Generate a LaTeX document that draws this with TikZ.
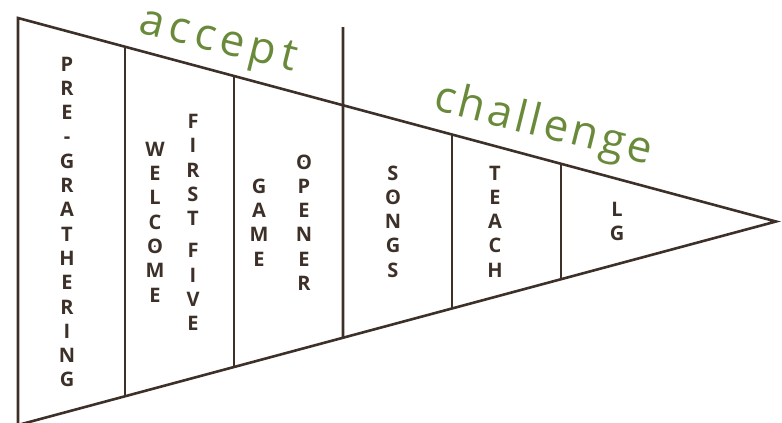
\documentclass[tikz,border=0pt]{standalone}
\usepackage{fontspec}
\setmainfont{Open Sans}
\newfontfamily\acceptfont[LetterSpace=12]{Open Sans}
\newfontfamily\challengefont[LetterSpace=8]{Open Sans}
\usetikzlibrary{calc}
\definecolor{ink}{HTML}{3D3029}
\definecolor{leaf}{HTML}{6A8A3B}
\newcommand\Odot{\ooalign{O\cr\hidewidth\raisebox{6.4pt}{\fontsize{11}{11}\selectfont.}\hidewidth\cr}}
\begin{document}
\begin{tikzpicture}[x=1pt,y=-1pt,
  edge/.style={draw=ink,line width=2.6pt},
  letters/.style={text=ink,font=\bfseries\fontsize{20}{24.3}\selectfont,align=center,inner sep=0pt},
  title/.style={text=leaf,rotate=-14,anchor=base,inner sep=0pt}]
\useasboundingbox (0,0) rectangle (782,423);
\coordinate (TL) at (18,18);
\coordinate (BL) at (18,425);
\coordinate (TIP) at (776,221.5);
\draw[edge,line join=miter] (BL) -- (TL) -- (TIP) -- cycle;
% dividers
\coordinate (d1t) at ($(TL)!{107/758}!(TIP)$);
\coordinate (d1b) at ($(BL)!{107/758}!(TIP)$);
\coordinate (d2t) at ($(TL)!{216/758}!(TIP)$);
\coordinate (d2b) at ($(BL)!{216/758}!(TIP)$);
\coordinate (d3t) at (343,27);
\coordinate (d3b) at ($(BL)!{325/758}!(TIP)$);
\coordinate (d4t) at ($(TL)!{434/758}!(TIP)$);
\coordinate (d4b) at ($(BL)!{434/758}!(TIP)$);
\coordinate (d5t) at ($(TL)!{543/758}!(TIP)$);
\coordinate (d5b) at ($(BL)!{543/758}!(TIP)$);
\draw[edge] (d1t) -- (d1b);
\draw[edge] (d2t) -- (d2b);
\draw[edge] (d3t) -- (d3b);
\draw[edge] (d4t) -- (d4b);
\draw[edge] (d5t) -- (d5b);
% column texts
\node[letters] (pre) at (67,222) {P\\R\\E\\-\\G\\R\\A\\T\\H\\E\\R\\I\\N\\G};
\node[letters] (welcome) at (155,222) {W\\E\\L\\C\\\Odot\\M\\E};
\node[letters] (first) at (193,222.5) {F\\I\\R\\S\\T\\[8pt]F\\I\\V\\E};
\node[letters] (game) at (259,222.5) {G\\A\\M\\E};
\node[letters] (opener) at (304,222.5) {\Odot\\P\\E\\N\\E\\R};
\node[letters] (songs) at (393,221.5) {S\\\Odot\\N\\G\\S};
\node[letters] (teach) at (495,221.5) {T\\E\\A\\C\\H};
\node[letters] (lg) at (617,221.5) {L\\G};
% titles
\node[title,font=\acceptfont\fontsize{44}{46}\selectfont] (accept) at (215.5,52) {accept};
\node[title,font=\challengefont\fontsize{44}{46}\selectfont] (challenge) at (540.5,137) {challenge};
\end{tikzpicture}
\end{document}
